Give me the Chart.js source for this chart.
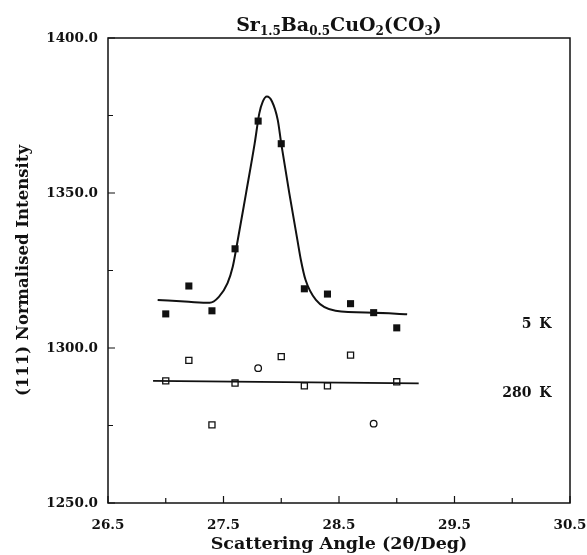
<!DOCTYPE html>
<html>
<head>
<meta charset="utf-8">
<script src="https://cdn.jsdelivr.net/npm/chart.js@4/dist/chart.umd.min.js"></script>
<style>
  html, body { margin: 0; padding: 0; background: #fff; }
  canvas { display: block; }
</style>
</head>
<body>
<canvas id="chart" width="587" height="555"></canvas>
<script>
// measured points, 2theta in degrees
var angles = [27.0, 27.2, 27.4, 27.6, 27.8, 28.0, 28.2, 28.4, 28.6, 28.8, 29.0];
var intensity5K = [1311.0, 1320.0, 1312.0, 1332.0, 1373.2, 1365.9, 1319.1, 1317.4, 1314.3, 1311.4, 1306.5];
var intensity280K = [1289.4, 1296.0, 1275.2, 1288.7, 1293.5, 1297.2, 1287.8, 1287.8, 1297.7, 1275.6, 1289.1];
var shapes280K = ['rect', 'rect', 'rect', 'rect', 'circle', 'rect', 'rect', 'rect', 'rect', 'circle', 'rect'];

// fitted curves
var fit5KAngles = [26.93, 27.2, 27.38, 27.46, 27.535, 27.58, 27.61, 27.695, 27.77, 27.81, 27.84, 27.876,
                   27.92, 27.97, 28.0, 28.07, 28.14, 28.17, 28.21, 28.3, 28.47, 28.8, 29.09];
var fit5KValues = [1315.5, 1314.9, 1314.6, 1316.5, 1320.9, 1326.2, 1332.0, 1349.9, 1366.0, 1375.7, 1379.5, 1381.1,
                   1379.5, 1373.5, 1365.9, 1349.9, 1334.8, 1328.4, 1322.0, 1315.5, 1312.0, 1311.4, 1310.9];
var fit280KAngles = [26.89, 29.19];
var fit280KValues = [1289.4, 1288.6];

var xLabelTicks = [26.5, 27.5, 28.5, 29.5, 30.5];
var yLabelTicks = [1250, 1300, 1350, 1400];

var INK = '#111';
var FONT = 'DejaVu Serif';

function pairs(xs, ys) {
  return xs.map(function(x, i) { return { x: x, y: ys[i] }; });
}

var decorations = {
  id: 'decorations',
  afterDraw: function(chart) {
    var ctx = chart.ctx;
    var a = chart.chartArea;
    var xs = chart.scales.x;
    var ys = chart.scales.y;
    ctx.save();
    ctx.strokeStyle = INK;
    ctx.lineWidth = 1.5;
    ctx.strokeRect(a.left, a.top, a.right - a.left, a.bottom - a.top);

    // inward tick marks
    ctx.lineWidth = 1.2;
    ctx.beginPath();
    xs.ticks.forEach(function(t) {
      var px = xs.getPixelForValue(t.value);
      var len = xLabelTicks.indexOf(t.value) >= 0 ? 7 : 5;
      ctx.moveTo(px, a.bottom);
      ctx.lineTo(px, a.bottom - len);
    });
    ys.ticks.forEach(function(t) {
      var py = ys.getPixelForValue(t.value);
      var len = yLabelTicks.indexOf(t.value) >= 0 ? 7 : 5;
      ctx.moveTo(a.left, py);
      ctx.lineTo(a.left + len, py);
    });
    ctx.stroke();

    // title with subscripts
    var parts = [['Sr', 0], ['1.5', 1], ['Ba', 0], ['0.5', 1], ['CuO', 0], ['2', 1], ['(CO', 0], ['3', 1], [')', 0]];
    var big = 'bold 19px "' + FONT + '"';
    var small = 'bold 12px "' + FONT + '"';
    var total = 0;
    parts.forEach(function(p) {
      ctx.font = p[1] ? small : big;
      total += ctx.measureText(p[0]).width;
    });
    var tx = (a.left + a.right) / 2 - total / 2;
    ctx.fillStyle = INK;
    ctx.textAlign = 'left';
    ctx.textBaseline = 'alphabetic';
    parts.forEach(function(p) {
      ctx.font = p[1] ? small : big;
      ctx.fillText(p[0], tx, p[1] ? 35 : 31);
      tx += ctx.measureText(p[0]).width;
    });

    // temperature labels
    ctx.font = 'bold 14px "' + FONT + '"';
    ctx.textBaseline = 'middle';
    ctx.textAlign = 'right';
    var kx = xs.getPixelForValue(30.34);
    [[1307.5, '5'], [1285.5, '280']].forEach(function(l) {
      var py = ys.getPixelForValue(l[0]);
      ctx.fillText('K', kx, py);
      ctx.fillText(l[1], kx - 20, py);
    });
    ctx.restore();
  }
};

new Chart(document.getElementById('chart'), {
  type: 'scatter',
  data: {
    datasets: [
      {
        label: '5 K fit',
        data: pairs(fit5KAngles, fit5KValues),
        showLine: true,
        borderColor: INK,
        borderWidth: 2,
        pointRadius: 0,
        cubicInterpolationMode: 'monotone'
      },
      {
        label: '280 K fit',
        data: pairs(fit280KAngles, fit280KValues),
        showLine: true,
        borderColor: INK,
        borderWidth: 1.6,
        pointRadius: 0
      },
      {
        label: '5 K',
        data: pairs(angles, intensity5K),
        pointStyle: 'rect',
        pointRadius: 5,
        backgroundColor: INK,
        borderColor: INK,
        borderWidth: 0
      },
      {
        label: '280 K',
        data: pairs(angles, intensity280K),
        pointStyle: shapes280K,
        pointRadius: shapes280K.map(function(s) { return s === 'circle' ? 3.3 : 4.3; }),
        backgroundColor: '#fff',
        borderColor: INK,
        borderWidth: 1.3
      }
    ]
  },
  options: {
    responsive: false,
    animation: false,
    layout: { padding: { top: 38, right: 0, left: 0, bottom: 0 } },
    plugins: {
      legend: { display: false },
      tooltip: { enabled: false }
    },
    scales: {
      x: {
        type: 'linear',
        min: 26.5,
        max: 30.5,
        border: { display: false },
        grid: { display: false, drawTicks: false },
        ticks: {
          stepSize: 0.5,
          padding: 14,
          color: INK,
          font: { family: FONT, size: 13.5, weight: 'bold' },
          maxRotation: 0,
          autoSkip: false,
          callback: function(v) { return xLabelTicks.indexOf(v) >= 0 ? v.toFixed(1) : ''; }
        },
        title: {
          display: true,
          text: 'Scattering Angle (2θ/Deg)',
          color: INK,
          font: { family: FONT, size: 17.5, weight: 'bold' },
          padding: { top: 0, bottom: 0 }
        },
        afterFit: function(s) {
          s.height = 52;
          s.paddingLeft = 0;
          s.paddingRight = 17;
        }
      },
      y: {
        type: 'linear',
        min: 1250,
        max: 1400,
        border: { display: false },
        grid: { display: false, drawTicks: false },
        ticks: {
          stepSize: 25,
          padding: 10,
          color: INK,
          font: { family: FONT, size: 13.5, weight: 'bold' },
          autoSkip: false,
          callback: function(v) { return yLabelTicks.indexOf(v) >= 0 ? v.toFixed(1) : ''; }
        },
        title: {
          display: true,
          text: '(111) Normalised Intensity',
          color: INK,
          font: { family: FONT, size: 16.5, weight: 'bold' },
          padding: { top: 14, bottom: 0 }
        },
        afterFit: function(s) {
          s.width = 108;
          s.paddingTop = 0;
          s.paddingBottom = 0;
        }
      }
    }
  },
  plugins: [decorations]
});
</script>
</body>
</html>
